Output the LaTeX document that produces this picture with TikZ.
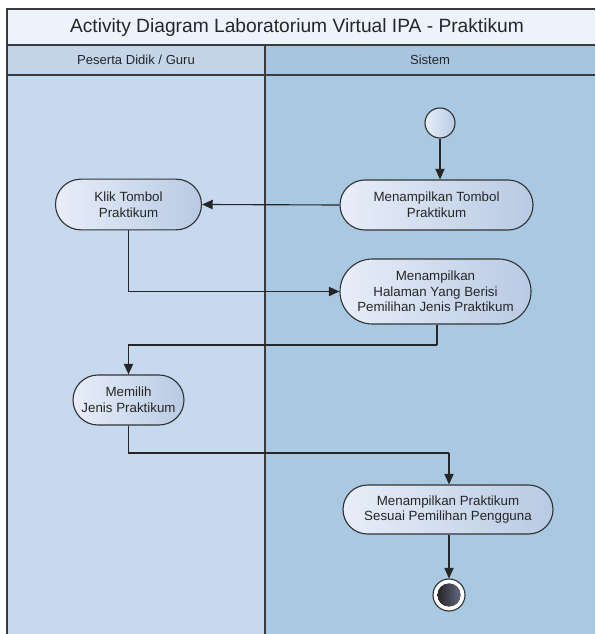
\documentclass[tikz,border=0pt]{standalone}
\usepackage{fontspec}
\setmainfont{Liberation Sans}
\usetikzlibrary{shapes.misc,arrows.meta,calc}
\definecolor{titlefill}{HTML}{EDF3FD}
\definecolor{lhead}{HTML}{C4D5EA}
\definecolor{rhead}{HTML}{A7C5DF}
\definecolor{lbody}{HTML}{C6D9EE}
\definecolor{rbody}{HTML}{A9C9E3}
\definecolor{frameline}{HTML}{3A3A3A}
\definecolor{actl}{HTML}{E8EEF9}
\definecolor{actr}{HTML}{B8CAE3}
\tikzset{
  act/.style={rounded rectangle, draw=black!80, line width=0.85pt, left color=actl, right color=actr,
     inner sep=0pt, align=center, font=\fontsize{10pt}{11.8pt}\selectfont, text=black!85},
  flow/.style={draw=black!85, line width=0.85pt, -{Triangle[length=8pt,width=7pt]}},
  flowline/.style={draw=black!85, line width=0.85pt},
  frame/.style={draw=frameline, line width=1.2pt},
}
\begin{document}
\begin{tikzpicture}[x=0.75pt,y=-0.75pt]
\useasboundingbox (0,0) rectangle (595,634);
% lanes
\fill[white] (0,0) rectangle (595,634);
\fill[titlefill] (7,9) rectangle (595,45);
\fill[lhead] (7,45) rectangle (265,75);
\fill[rhead] (265,45) rectangle (595,75);
\fill[lbody] (7,75) rectangle (265,634);
\fill[rbody] (265,75) rectangle (595,634);
\draw[frame] (595,9) -- (7,9) -- (7,634);
\draw[frame] (7,45) -- (595,45);
\draw[frame] (7,75) -- (595,75);
\draw[frame] (265,45) -- (265,634);
\node[font=\fontsize{14.4pt}{16pt}\selectfont, text=black!85] (title) at (297,28) {Activity Diagram Laboratorium Virtual IPA - Praktikum};
\node[font=\fontsize{9.8pt}{11pt}\selectfont, text=black!85] (lane1) at (136,60) {Peserta Didik / Guru};
\node[font=\fontsize{9.8pt}{11pt}\selectfont, text=black!85] (lane2) at (430,60) {Sistem};
% nodes
\node[circle, draw=black!80, line width=0.85pt, left color=actl, right color=actr, minimum size=22.5pt, inner sep=0pt] (init) at (440,123) {};
\node[act, minimum width=144.75pt, minimum height=37.5pt] (n1) at (436.5,205) {Menampilkan Tombol\\Praktikum};
\node[act, minimum width=109.5pt, minimum height=38pt] (klik) at (128.5,204.5) {Klik Tombol\\Praktikum};
\node[act, minimum width=143.25pt, minimum height=48.75pt] (n2) at (435.5,291.5) {Menampilkan\\Halaman Yang Berisi\\Pemilihan Jenis Praktikum};
\node[act, minimum width=83.25pt, minimum height=37.5pt] (memilih) at (128.5,400) {Memilih\\Jenis Praktikum};
\node[act, minimum width=157.5pt, minimum height=36.75pt] (n4) at (448,509.5) {Menampilkan Praktikum\\Sesuai Pemilihan Pengguna};
\node[circle, draw=black!80, fill=white, line width=0.85pt, minimum size=24pt, inner sep=0pt] (final) at (449,595) {};
\fill[left color=black!85, right color=black!45!blue!20!gray] (final.center) circle (8.6pt);
% coordinates
\coordinate (c1) at (437,345);
\coordinate (c2) at (449,453);
% connectors
\draw[flow] (init.south) -- (init.south |- n1.north);
\draw[flow] (n1.west) -- (klik.east);
\draw[flow] (klik.south) |- (n2.west);
\draw[flowline] (n2.south -| c1) -- (c1);
\draw[flow] (c1) -| (memilih.north);
\draw[flowline] (memilih.south) |- (c2);
\draw[flow] (c2) -- (c2 |- n4.north);
\draw[flow] (n4.south -| final) -- (final.north);
\end{tikzpicture}
\end{document}
